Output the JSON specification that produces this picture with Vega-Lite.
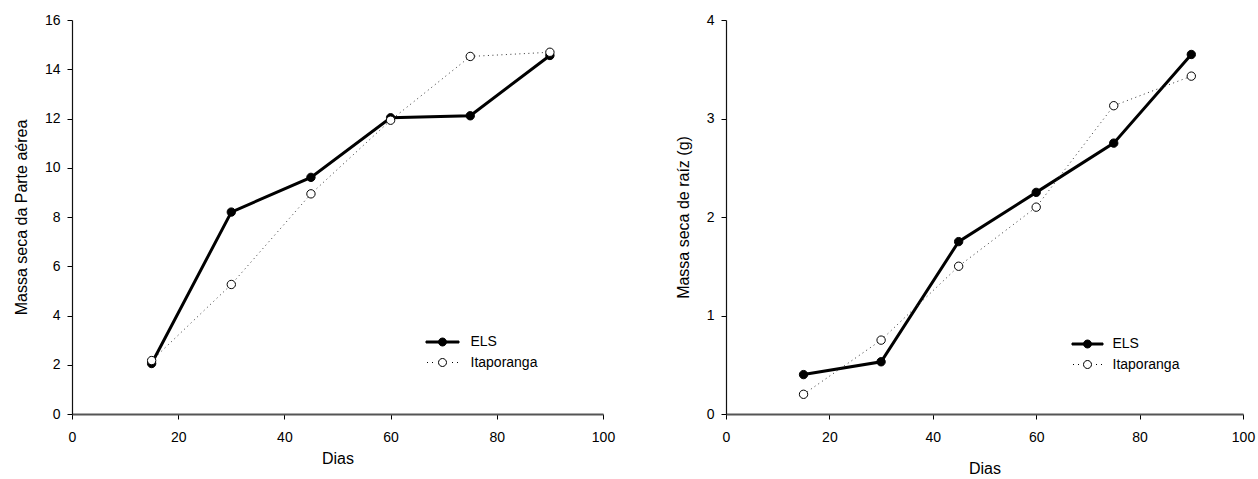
{
  "$schema": "https://vega.github.io/schema/vega-lite/v6.json",
  "background": "white",
  "padding": {"left": 13, "top": 13, "right": 5, "bottom": 5},
  "config": {
    "view": {"stroke": null},
    "font": "Liberation Sans",
    "axis": {
      "grid": false,
      "labelFont": "Liberation Sans",
      "titleFont": "Liberation Sans",
      "labelFontSize": 14,
      "titleFontSize": 16,
      "titleFontWeight": "normal",
      "labelColor": "black",
      "titleColor": "black",
      "tickColor": "black",
      "tickSize": 5,
      "labelFlush": false
    },
    "axisX": {"domainColor": "#555", "domainWidth": 2, "labelPadding": 11, "titlePadding": 6},
    "axisY": {"domainColor": "#111", "domainWidth": 1.2, "labelPadding": 7, "titlePadding": 15},
    "legend": {
      "orient": "none",
      "title": null,
      "padding": 0,
      "symbolSize": 100,
      "symbolOffset": 8.5,
      "rowPadding": 6.5,
      "labelFont": "Liberation Sans",
      "labelFontSize": 14,
      "labelColor": "black",
      "symbolStrokeColor": "black",
      "symbolStrokeWidth": 1
    }
  },
  "data": {
    "values": [
      {"dias": 15, "serie": "ELS", "parte_aerea": 2.05, "raiz": 0.40},
      {"dias": 30, "serie": "ELS", "parte_aerea": 8.2, "raiz": 0.53},
      {"dias": 45, "serie": "ELS", "parte_aerea": 9.61, "raiz": 1.75},
      {"dias": 60, "serie": "ELS", "parte_aerea": 12.03, "raiz": 2.25},
      {"dias": 75, "serie": "ELS", "parte_aerea": 12.11, "raiz": 2.75},
      {"dias": 90, "serie": "ELS", "parte_aerea": 14.56, "raiz": 3.65},
      {"dias": 15, "serie": "Itaporanga", "parte_aerea": 2.17, "raiz": 0.20},
      {"dias": 30, "serie": "Itaporanga", "parte_aerea": 5.26, "raiz": 0.75},
      {"dias": 45, "serie": "Itaporanga", "parte_aerea": 8.94, "raiz": 1.50},
      {"dias": 60, "serie": "Itaporanga", "parte_aerea": 11.93, "raiz": 2.10},
      {"dias": 75, "serie": "Itaporanga", "parte_aerea": 14.52, "raiz": 3.13},
      {"dias": 90, "serie": "Itaporanga", "parte_aerea": 14.69, "raiz": 3.43}
    ]
  },
  "spacing": 60,
  "resolve": {"scale": {"fill": "independent"}, "legend": {"fill": "independent"}},
  "hconcat": [
    {
      "width": 531,
      "height": 394,
      "encoding": {
        "x": {"field": "dias", "type": "quantitative", "scale": {"domain": [0, 100], "nice": false}, "axis": {"title": "Dias", "values": [0, 20, 40, 60, 80, 100]}},
        "y": {"field": "parte_aerea", "type": "quantitative", "scale": {"domain": [0, 16], "nice": false}, "axis": {"title": "Massa seca da Parte aérea", "values": [0, 2, 4, 6, 8, 10, 12, 14, 16]}}
      },
      "layer": [
        {"transform": [{"filter": {"field": "serie", "equal": "ELS"}}], "mark": {"type": "line", "color": "black", "strokeWidth": 3}},
        {"transform": [{"filter": {"field": "serie", "equal": "Itaporanga"}}], "mark": {"type": "line", "color": "#333", "strokeWidth": 1, "strokeDash": [1, 3.5]}},
        {
          "mark": {"type": "point", "shape": "circle", "filled": true, "size": 70, "stroke": "black", "strokeWidth": 1, "opacity": 1},
          "encoding": {
            "fill": {
              "field": "serie", "type": "nominal",
              "scale": {"domain": ["ELS", "Itaporanga"], "range": ["black", "white"]},
              "legend": {
                "legendX": 355, "legendY": 315, "labelOffset": 21,
                "encoding": {"symbols": {"shape": {"value": {"expr": "datum.value === 'ELS' ? 'M-3.3,-0.2L3.3,-0.2L3.3,0.2L-3.3,0.2Z M0.8,0A0.8,0.8,0,1,1,-0.8,0A0.8,0.8,0,1,1,0.8,0Z' : 'M-3.1,0L-2.9,0M-2.1,0L-1.9,0M1.9,0L2.1,0M2.9,0L3.1,0M0.8,0A0.8,0.8,0,1,1,-0.8,0A0.8,0.8,0,1,1,0.8,0Z'"}}}}
              }
            }
          }
        }
      ]
    },
    {
      "width": 517,
      "height": 394,
      "encoding": {
        "x": {"field": "dias", "type": "quantitative", "scale": {"domain": [0, 100], "nice": false}, "axis": {"title": "Dias", "values": [0, 20, 40, 60, 80, 100], "titlePadding": 16}},
        "y": {"field": "raiz", "type": "quantitative", "scale": {"domain": [0, 4], "nice": false}, "axis": {"title": "Massa seca de raíz (g)", "values": [0, 1, 2, 3, 4]}}
      },
      "layer": [
        {"transform": [{"filter": {"field": "serie", "equal": "ELS"}}], "mark": {"type": "line", "color": "black", "strokeWidth": 3}},
        {"transform": [{"filter": {"field": "serie", "equal": "Itaporanga"}}], "mark": {"type": "line", "color": "#333", "strokeWidth": 1, "strokeDash": [1, 3.5]}},
        {
          "mark": {"type": "point", "shape": "circle", "filled": true, "size": 70, "stroke": "black", "strokeWidth": 1, "opacity": 1},
          "encoding": {
            "fill": {
              "field": "serie", "type": "nominal",
              "scale": {"domain": ["ELS", "Itaporanga"], "range": ["black", "white"]},
              "legend": {
                "legendX": 346, "legendY": 317, "labelOffset": 18,
                "encoding": {"symbols": {"shape": {"value": {"expr": "datum.value === 'ELS' ? 'M-3.1,-0.2L3.1,-0.2L3.1,0.2L-3.1,0.2Z M0.8,0A0.8,0.8,0,1,1,-0.8,0A0.8,0.8,0,1,1,0.8,0Z' : 'M-2.9,0L-2.7,0M-1.9,0L-1.7,0M1.7,0L1.9,0M2.7,0L2.9,0M0.8,0A0.8,0.8,0,1,1,-0.8,0A0.8,0.8,0,1,1,0.8,0Z'"}}}}
              }
            }
          }
        }
      ]
    }
  ]
}
